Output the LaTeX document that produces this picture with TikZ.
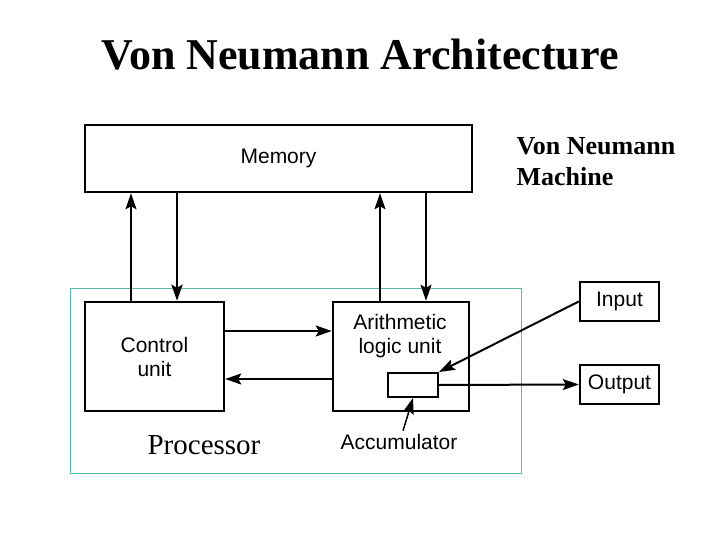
\documentclass[tikz,border=0pt]{standalone}
\usepackage{fontspec}
\setmainfont{Liberation Serif}
\setsansfont{Liberation Sans}
\usetikzlibrary{arrows.meta,positioning}
\definecolor{procteal}{RGB}{90,185,175}
\tikzstyle{unit} = [draw, line width=2.5pt, inner sep=0pt, align=center, font=\sffamily\fontsize{21}{24}\selectfont]
\tikzstyle{arrow} = [line width=2pt,-{Stealth[length=16pt,width=11pt,inset=3pt]}]

\begin{document}
\begin{tikzpicture}[x=1pt,y=-1pt]
\useasboundingbox (0,0) rectangle (720,540);
% Title
\node[font=\bfseries\fontsize{44}{50}\selectfont] (title) at (360,55) {Von Neumann Architecture};
\node[anchor=west, align=left, font=\bfseries\fontsize{26}{31}\selectfont] (machine) at (513,162) {Von Neumann\\Machine};

% Memory
\node[unit, minimum width=387pt, minimum height=67pt] (mem) at (278.5,158.5) {Memory};

% Processor
\node[draw=procteal, line width=0.9pt, minimum width=451pt, minimum height=185pt] (proc) at (295.5,380.5) {};
\node[font=\fontsize{29}{32}\selectfont] (proclabel) at (204,445) {Processor};
\node[unit, minimum width=139pt, minimum height=109pt] (ctrl) at (154.5,356.5) {Control\\unit};
\node[unit, minimum width=136pt, minimum height=109pt] (alu) at (401,356.5) {};
\node[align=center, font=\sffamily\fontsize{21}{24}\selectfont] (alutext) at (400,336) {Arithmetic\\logic unit};
\node[unit, line width=2pt, minimum width=50pt, minimum height=24pt] (acc) at (413,385) {};
\node[font=\sffamily\fontsize{21}{24}\selectfont] (acclabel) at (399,442) {Accumulator};

% Input / Output
\node[unit, minimum width=79pt, minimum height=39pt] (inp) at (619.5,301.5) {Input};
\node[unit, minimum width=79pt, minimum height=39pt] (outp) at (619.5,384.5) {Output};

% Memory <-> processor
\draw[arrow] ([xshift=-23.5pt]ctrl.north) -- ([xshift=-23.5pt]ctrl.north |- mem.south);
\draw[arrow, line width=2.8pt] ([xshift=22.5pt]ctrl.north |- mem.south) -- ([xshift=22.5pt]ctrl.north);
\draw[arrow] ([xshift=-21pt]alu.north) -- ([xshift=-21pt]alu.north |- mem.south);
\draw[arrow] ([xshift=25pt]alu.north |- mem.south) -- ([xshift=25pt]alu.north);

% Control <-> ALU
\draw[arrow] ([yshift=25.5pt]ctrl.east) -- ([yshift=25.5pt]ctrl.east -| alu.west);
\draw[arrow] ([yshift=-22.5pt]alu.west) -- ([yshift=-22.5pt]alu.west -| ctrl.east);

% I/O
\draw[arrow] (inp.west) -- (acc.north east);
\draw[arrow] (acc.east) -- (outp.west);
\draw[arrow, line width=1.5pt] ([xshift=4pt]acclabel.north) -- (acc.south);
\end{tikzpicture}
\end{document}
